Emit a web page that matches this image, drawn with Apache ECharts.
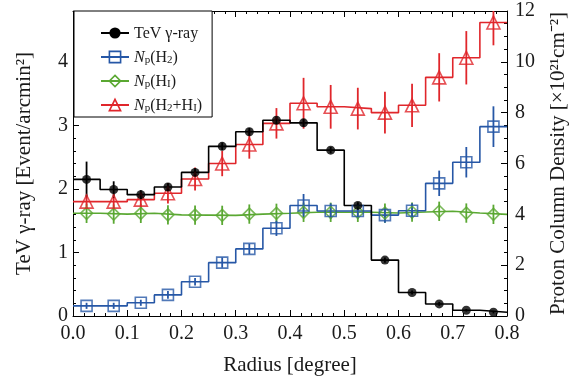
<!DOCTYPE html>
<html>
<head>
<meta charset="utf-8">
<script src="https://cdn.jsdelivr.net/npm/echarts@6/dist/echarts.min.js"></script>
<style>
html,body{margin:0;padding:0;background:#fff;}
#chart{width:577px;height:381px;}
</style>
</head>
<body>
<div id="chart"></div>
<script>
// ---- data ----
const binEdges   = [0, 0.05, 0.10, 0.15, 0.20, 0.25, 0.30, 0.35, 0.40, 0.45, 0.50, 0.55, 0.60, 0.65, 0.70, 0.75, 0.80];
const binCenters = [0.025, 0.075, 0.125, 0.175, 0.225, 0.275, 0.325, 0.375, 0.425, 0.475, 0.525, 0.575, 0.625, 0.675, 0.725, 0.775];

// TeV gamma-ray [Event/arcmin^2] (left axis)
const gammaRay    = [2.15, 1.99, 1.91, 2.03, 2.26, 2.67, 2.90, 3.08, 3.04, 2.61, 1.74, 0.88, 0.37, 0.19, 0.09, 0.06];
const gammaRayErr = [0.28, 0.13, 0.07, 0.06, 0.06, 0.06, 0.06, 0.06, 0.06, 0.05, 0.05, 0.04, 0.03, 0.03, 0.02, 0.02];

// Proton column density [1e21 cm^-2] (right axis)
const npH2      = [0.40, 0.40, 0.52, 0.83, 1.35, 2.10, 2.64, 3.45, 4.35, 4.13, 4.13, 3.97, 4.14, 5.22, 6.05, 7.45];
const npH2Err   = [0.12, 0.12, 0.12, 0.15, 0.15, 0.20, 0.20, 0.30, 0.45, 0.30, 0.30, 0.30, 0.30, 0.50, 0.60, 0.80];
const npHI      = [4.04, 4.01, 4.04, 3.98, 3.97, 3.96, 4.01, 4.04, 4.08, 4.08, 4.08, 4.05, 4.09, 4.12, 4.05, 4.00];
const npHIErr   = [0.38, 0.38, 0.38, 0.38, 0.38, 0.38, 0.38, 0.38, 0.38, 0.38, 0.38, 0.38, 0.38, 0.38, 0.38, 0.38];
const npTot     = [4.50, 4.50, 4.58, 4.83, 5.39, 6.00, 6.75, 7.58, 8.37, 8.23, 8.16, 8.00, 8.29, 9.39, 10.16, 11.55];
const npTotErr  = [0.27, 0.30, 0.30, 0.40, 0.45, 0.50, 0.56, 0.60, 1.00, 0.86, 0.82, 0.82, 0.85, 0.95, 1.05, 0.90];

const seriesNames = ['TeV γ-ray', 'Np(H2)', 'Np(HI)', 'Np(H2+HI)'];

// ---- styles ----
const FONT = 'Liberation Serif';
const TXT = '#1a1a1a';
const C_BLACK = '#000000', C_BLUE = '#2657a6', C_GREEN = '#5aa832', C_RED = '#e0262b';

function stepData(vals) {
  const out = [];
  for (let i = 0; i < vals.length; i++) {
    out.push([binEdges[i], vals[i]]);
    out.push([binEdges[i + 1], vals[i]]);
  }
  return out;
}
function stepSeries(name, vals, color, yAxisIndex, symbol, itemStyle) {
  return {
    type: 'line', name, yAxisIndex, xAxisIndex: 0,
    data: stepData(vals), showSymbol: false, symbol, symbolSize: 10,
    lineStyle: { color, width: 1.6 }, itemStyle, silent: true, z: 2,
    animation: false
  };
}
function errSeries(name, vals, errs, color, yAxisIndex) {
  return {
    type: 'custom', name, yAxisIndex, xAxisIndex: 0, clip: true, z: 3, silent: true,
    data: binCenters.map((x, i) => [x, vals[i] - errs[i], vals[i] + errs[i]]),
    encode: { x: 0, y: [1, 2] },
    renderItem(params, api) {
      const p1 = api.coord([api.value(0), api.value(1)]);
      const p2 = api.coord([api.value(0), api.value(2)]);
      return { type: 'line', shape: { x1: p1[0], y1: p1[1], x2: p2[0], y2: p2[1] },
               style: { stroke: color, lineWidth: 1.8 } };
    },
    animation: false
  };
}
function markSeries(name, vals, yAxisIndex, symbol, size, itemStyle) {
  return {
    type: 'scatter', name, yAxisIndex, xAxisIndex: 0, symbol, symbolSize: size,
    data: binCenters.map((x, i) => [x, vals[i]]), itemStyle, z: 4, silent: true,
    animation: false
  };
}

const open = c => ({ color: 'rgba(0,0,0,0)', borderColor: c, borderWidth: 1.6 });

const legendFmt = {
  'TeV γ-ray': '{t|TeV γ-ray}',
  'Np(H2)': '{i|N}{s|p}{t|(H}{s|2}{t|)}',
  'Np(HI)': '{i|N}{s|p}{t|(H}{s|I}{t|)}',
  'Np(H2+HI)': '{i|N}{s|p}{t|(H}{s|2}{t|+H}{s|I}{t|)}'
};

const axisLineStyle = { color: '#000', width: 1 };
const tickStyle = { color: '#000', width: 1 };

const option = {
  backgroundColor: '#fff',
  animation: false,
  grid: { left: 73, right: 67, top: 11, bottom: 65 },
  legend: {
    orient: 'vertical', left: 74, top: 11,
    padding: [15, 10, 3, 26],
    itemWidth: 28, itemHeight: 14, itemGap: 8,
    borderColor: '#000', borderWidth: 1, backgroundColor: '#fff',
    selectedMode: false,
    data: [
      { name: seriesNames[0], itemStyle: { color: C_BLACK, borderWidth: 0 } },
      { name: seriesNames[1], itemStyle: open(C_BLUE) },
      { name: seriesNames[2], itemStyle: open(C_GREEN) },
      { name: seriesNames[3], itemStyle: open(C_RED) }
    ],
    formatter: n => legendFmt[n],
    textStyle: {
      fontFamily: FONT, fontSize: 16, color: TXT,
      rich: {
        t: { fontFamily: FONT, fontSize: 16, color: TXT, lineHeight: 18, verticalAlign: 'bottom' },
        i: { fontFamily: FONT, fontSize: 16, color: TXT, fontStyle: 'italic', lineHeight: 18, verticalAlign: 'bottom' },
        s: { fontFamily: FONT, fontSize: 11, color: TXT, lineHeight: 10, verticalAlign: 'bottom' }
      }
    }
  },
  xAxis: [
    {
      type: 'value', min: 0, max: 0.8, interval: 0.1, position: 'bottom',
      name: 'Radius [degree]', nameLocation: 'middle', nameGap: 39,
      nameTextStyle: { fontFamily: FONT, fontSize: 21, color: TXT },
      axisLine: { show: true, onZero: false, lineStyle: axisLineStyle },
      axisTick: { show: true, inside: true, length: 6, lineStyle: tickStyle },
      minorTick: { show: true, splitNumber: 5, length: 3, lineStyle: tickStyle },
      axisLabel: { fontFamily: FONT, fontSize: 20, color: TXT, margin: 8,
                   formatter: v => v.toFixed(1) },
      splitLine: { show: false }
    },
    {
      type: 'value', min: 0, max: 0.8, interval: 0.1, position: 'top',
      axisLine: { show: true, onZero: false, lineStyle: axisLineStyle },
      axisTick: { show: true, inside: true, length: 6, lineStyle: tickStyle },
      minorTick: { show: true, splitNumber: 5, length: 3, lineStyle: tickStyle },
      axisLabel: { show: false }, splitLine: { show: false }
    }
  ],
  yAxis: [
    {
      type: 'value', min: 0, max: 4.8, interval: 1, position: 'left',
      name: 'TeV γ-ray [Event/arcmin²]', nameLocation: 'middle', nameGap: 38,
      nameTextStyle: { fontFamily: FONT, fontSize: 21, color: TXT },
      axisLine: { show: true, onZero: false, lineStyle: axisLineStyle },
      axisTick: { show: true, inside: true, length: 6, lineStyle: tickStyle },
      minorTick: { show: true, splitNumber: 5, length: 3, lineStyle: tickStyle },
      axisLabel: { fontFamily: FONT, fontSize: 20, color: TXT, margin: 5, showMaxLabel: false },
      splitLine: { show: false }
    },
    {
      type: 'value', min: 0, max: 12, interval: 2, position: 'right',
      name: 'Proton Column Density [×10²¹cm⁻²]', nameLocation: 'middle', nameGap: 41,
      nameTextStyle: { fontFamily: FONT, fontSize: 21, color: TXT },
      axisLine: { show: true, onZero: false, lineStyle: axisLineStyle },
      axisTick: { show: true, inside: true, length: 6, lineStyle: tickStyle },
      minorTick: { show: true, splitNumber: 4, length: 3, lineStyle: tickStyle },
      axisLabel: { fontFamily: FONT, fontSize: 20, color: TXT, margin: 8 },
      splitLine: { show: false }
    }
  ],
  series: [
    stepSeries(seriesNames[2], npHI, C_GREEN, 1, 'diamond', open(C_GREEN)),
    stepSeries(seriesNames[1], npH2, C_BLUE, 1, 'rect', open(C_BLUE)),
    stepSeries(seriesNames[3], npTot, C_RED, 1, 'triangle', open(C_RED)),
    stepSeries(seriesNames[0], gammaRay, C_BLACK, 0, 'circle', { color: C_BLACK }),
    errSeries('errHI', npHI, npHIErr, C_GREEN, 1),
    errSeries('errH2', npH2, npH2Err, C_BLUE, 1),
    errSeries('errTot', npTot, npTotErr, C_RED, 1),
    errSeries('errGamma', gammaRay, gammaRayErr, C_BLACK, 0),
    markSeries('mHI', npHI, 1, 'diamond', 12, open(C_GREEN)),
    markSeries('mH2', npH2, 1, 'rect', 11, open(C_BLUE)),
    markSeries('mTot', npTot, 1, 'triangle', 13, open(C_RED)),
    markSeries('mGamma', gammaRay, 0, 'circle', 9, { color: C_BLACK })
  ]
};

const chart = echarts.init(document.getElementById('chart'), null, { renderer: 'canvas' });
chart.setOption(option);
</script>
</body>
</html>
